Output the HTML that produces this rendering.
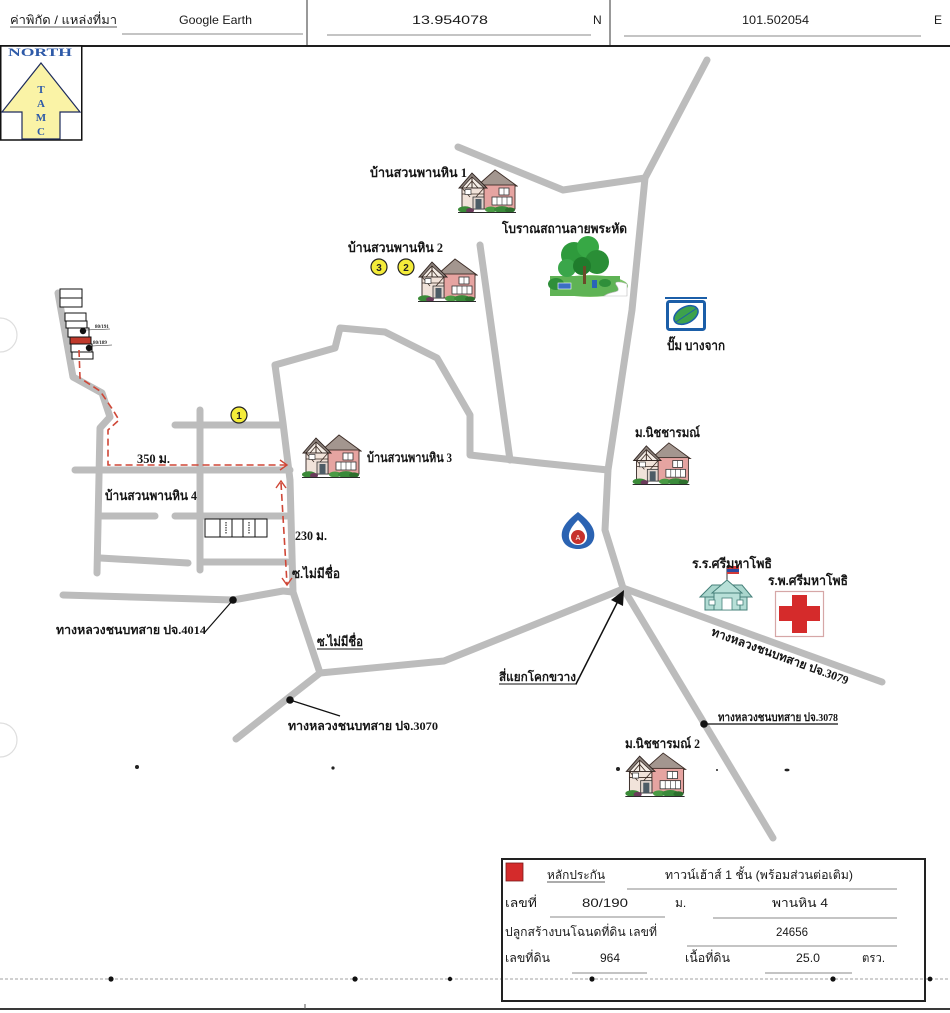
<!DOCTYPE html>
<html>
<head>
<meta charset="utf-8">
<style>
html,body{margin:0;padding:0;background:#fff;}
body{width:950px;height:1013px;overflow:hidden;}
svg{display:block;}
.th{font-family:"Liberation Serif","Noto Serif CJK SC",serif;font-weight:bold;fill:#151515;}
.sn{font-family:"Liberation Sans","Noto Sans CJK SC",sans-serif;fill:#1a1a1a;}
.rd{fill:none;stroke:#bcbcbc;stroke-width:7;stroke-linecap:round;stroke-linejoin:round;}
.dash{fill:none;stroke:#cf4636;stroke-width:1.6;stroke-dasharray:7 4;}
.chev{fill:none;stroke:#cf4636;stroke-width:1.4;}
</style>
</head>
<body>
<svg width="950" height="1013" viewBox="0 0 950 1013" xmlns="http://www.w3.org/2000/svg">
<defs>
<symbol id="house" viewBox="0 0 60 46">
  <polygon points="19,19 37,3 59,19" fill="#a3968f" stroke="#3e2e28" stroke-width="0.9"/>
  <rect x="24" y="18" width="33" height="24" fill="#e6a4a1" stroke="#3e2e28" stroke-width="0.9"/>
  <polygon points="1,21 14,6 29,21" fill="#8a807a" stroke="#2e221e" stroke-width="0.9"/>
  <polygon points="4,21 14,10 26,21" fill="#f4ede6" stroke="#2e221e" stroke-width="0.7"/>
  <line x1="14" y1="10" x2="14" y2="21" stroke="#3a2a22" stroke-width="1"/>
  <line x1="8" y1="21" x2="14" y2="14" stroke="#3a2a22" stroke-width="0.8"/>
  <line x1="20" y1="21" x2="14" y2="14" stroke="#3a2a22" stroke-width="0.8"/>
  <rect x="4" y="21" width="22" height="21" fill="#f1e3da" stroke="#2e221e" stroke-width="0.9"/>
  <line x1="4" y1="27" x2="26" y2="27" stroke="#3a2a22" stroke-width="0.8"/>
  <line x1="4" y1="21" x2="12" y2="30" stroke="#3a2a22" stroke-width="0.8"/>
  <line x1="26" y1="21" x2="18" y2="30" stroke="#3a2a22" stroke-width="0.8"/>
  <rect x="7" y="22.5" width="6" height="5" fill="#fff" stroke="#333" stroke-width="0.7"/>
  <rect x="41" y="21" width="10" height="7" fill="#fff" stroke="#333" stroke-width="0.8"/>
  <line x1="46" y1="21" x2="46" y2="28" stroke="#333" stroke-width="0.6"/>
  <rect x="34" y="30" width="20" height="8" fill="#fff" stroke="#333" stroke-width="0.8"/>
  <line x1="39" y1="30" x2="39" y2="38" stroke="#333" stroke-width="0.6"/>
  <line x1="44" y1="30" x2="44" y2="38" stroke="#333" stroke-width="0.6"/>
  <line x1="49" y1="30" x2="49" y2="38" stroke="#333" stroke-width="0.6"/>
  <rect x="15" y="30" width="11" height="12" fill="#e2d6cf" stroke="#333" stroke-width="0.8"/>
  <rect x="17.5" y="32" width="6" height="10" fill="#4d5c66"/>
  <ellipse cx="7" cy="42.5" rx="7" ry="3.2" fill="#3b8a38"/>
  <ellipse cx="12" cy="43.5" rx="4" ry="2.5" fill="#6a3a5a"/>
  <ellipse cx="33" cy="42.5" rx="6" ry="3" fill="#4a9a44"/>
  <ellipse cx="44" cy="42.5" rx="8" ry="3.4" fill="#3a8a3a"/>
  <ellipse cx="52" cy="43" rx="5" ry="2.6" fill="#2d6f2d"/>
  <line x1="0" y1="45.5" x2="58" y2="45.5" stroke="#2a2a2a" stroke-width="1"/>
</symbol>
</defs>

<!-- punch holes -->
<circle cx="0" cy="335" r="17" fill="none" stroke="#dedede" stroke-width="1.2"/>
<circle cx="0" cy="740" r="17" fill="none" stroke="#dedede" stroke-width="1.2"/>

<!-- ===== HEADER ===== -->
<text class="sn" x="10" y="24" font-size="12" textLength="107" lengthAdjust="spacingAndGlyphs">ค่าพิกัด / แหล่งที่มา</text>
<line x1="10" y1="27" x2="117" y2="27" stroke="#222" stroke-width="0.8"/>
<text class="sn" x="179" y="24" font-size="12" textLength="73" lengthAdjust="spacingAndGlyphs">Google Earth</text>
<line x1="122" y1="34" x2="303" y2="34" stroke="#8a8a8a" stroke-width="1"/>
<line x1="307" y1="0" x2="307" y2="46" stroke="#333" stroke-width="1"/>
<text class="sn" x="412" y="24" font-size="12" textLength="76" lengthAdjust="spacingAndGlyphs">13.954078</text>
<line x1="327" y1="35" x2="591" y2="35" stroke="#8a8a8a" stroke-width="1"/>
<text class="sn" x="593" y="24" font-size="12">N</text>
<line x1="610" y1="0" x2="610" y2="46" stroke="#333" stroke-width="1"/>
<text class="sn" x="742" y="24" font-size="12" textLength="67" lengthAdjust="spacingAndGlyphs">101.502054</text>
<line x1="624" y1="36" x2="921" y2="36" stroke="#8a8a8a" stroke-width="1"/>
<text class="sn" x="934" y="24" font-size="12">E</text>
<line x1="0" y1="46" x2="950" y2="46" stroke="#1e1e1e" stroke-width="2"/>

<!-- ===== NORTH BOX ===== -->
<rect x="0.75" y="46" width="81" height="94" fill="#fff" stroke="#111" stroke-width="1.5"/>
<text x="8" y="56" font-family="Liberation Serif, serif" font-weight="bold" font-size="12" fill="#2e5aa8" textLength="64" lengthAdjust="spacingAndGlyphs">NORTH</text>
<polygon points="41,63 80,112 60,112 60,139 22,139 22,112 2,112" fill="#faf3a6" stroke="#1d2b5c" stroke-width="1.2"/>
<g font-family="Liberation Serif, serif" font-weight="bold" font-size="11" fill="#2e5aa8" text-anchor="middle">
<text x="41" y="93">T</text><text x="41" y="107">A</text><text x="41" y="121">M</text><text x="41" y="135">C</text>
</g>

<!-- ===== ROADS ===== -->
<polyline class="rd" points="707,60 645,178 632,310 608,470 605,530 623,588"/>
<polyline class="rd" points="458,147 563,190 645,178"/>
<polyline class="rd" points="480,245 510,460"/>
<polyline class="rd" points="275,365 335,348 340,328 385,332 437,358 470,415 470,455 540,463 608,470"/>
<polyline class="rd" points="275,365 283,423 290,480 293,592 320,673"/>
<polyline class="rd" points="63,595 233,600 283,591 293,592"/>
<polyline class="rd" points="320,673 444,661 623,589"/>
<polyline class="rd" points="320,673 236,739"/>
<polyline class="rd" points="623,588 882,682"/>
<polyline class="rd" points="623,588 773,838"/>
<!-- left grid -->
<polyline class="rd" points="58,293 73,377 102,393 110,417 100,428 97,573"/>
<polyline class="rd" points="75,470 290,470"/>
<polyline class="rd" points="175,425 280,425"/>
<polyline class="rd" points="200,410 200,570"/>
<polyline class="rd" points="100,516 155,516"/>
<polyline class="rd" points="175,516 287,516"/>
<polyline class="rd" points="100,558 188,563"/>
<polyline class="rd" points="203,562 287,562"/>

<!-- ===== TOP-LEFT LOTS ===== -->
<g fill="#fff" stroke="#111" stroke-width="1">
<rect x="60" y="289" width="22" height="9"/>
<rect x="60" y="298" width="22" height="9"/>
<rect x="65" y="313" width="21" height="8"/>
<rect x="66" y="321" width="21" height="7"/>
<rect x="68" y="328" width="21" height="9"/>
<rect x="70" y="337" width="21" height="7" fill="#c0392b"/>
<rect x="71" y="344" width="21" height="8"/>
<rect x="72" y="352" width="21" height="7"/>
</g>
<circle cx="83" cy="331" r="3.2" fill="#111"/>
<circle cx="89" cy="348" r="3.2" fill="#111"/>
<g font-family="Liberation Serif, serif" font-weight="bold" font-size="5" fill="#222">
<text x="95" y="328">80/191</text><text x="93" y="344">80/189</text>
</g>
<line x1="86" y1="330" x2="110" y2="329" stroke="#222" stroke-width="0.6"/>
<line x1="92" y1="346" x2="112" y2="345" stroke="#222" stroke-width="0.6"/>

<!-- red dashed route -->
<polyline class="dash" points="79,350 80,378 100,391 113,410 119,420 108,430 108,465 286,465"/>
<polyline class="chev" points="280,460 287,465 280,470"/>
<line class="dash" x1="281" y1="483" x2="287" y2="584"/>
<polyline class="chev" points="276,488 281,481 286,488"/>
<polyline class="chev" points="282,578 287,585 292,578"/>

<!-- lots row -->
<g fill="#fff" stroke="#111" stroke-width="1">
<rect x="205" y="519" width="15" height="18"/>
<rect x="220" y="519" width="12" height="18"/>
<rect x="232" y="519" width="11" height="18"/>
<rect x="243" y="519" width="12" height="18"/>
<rect x="255" y="519" width="12" height="18"/>
</g>
<line x1="226" y1="522" x2="226" y2="534" stroke="#333" stroke-width="1.2" stroke-dasharray="1.5 1"/>
<line x1="249" y1="522" x2="249" y2="534" stroke="#333" stroke-width="1.2" stroke-dasharray="1.5 1"/>

<!-- yellow circles -->
<g stroke="#222" stroke-width="1.2" fill="#f4ec3a">
<circle cx="239" cy="415" r="8"/>
<circle cx="379" cy="267" r="8"/>
<circle cx="406" cy="267" r="8"/>
</g>
<g font-family="Liberation Sans, sans-serif" font-weight="bold" font-size="10" fill="#222" text-anchor="middle">
<text x="239" y="419">1</text><text x="379" y="271">3</text><text x="406" y="271">2</text>
</g>

<!-- ===== HOUSES ===== -->
<use href="#house" x="458" y="167" width="60" height="46"/>
<use href="#house" x="418" y="256" width="60" height="46"/>
<use href="#house" x="302" y="432" width="60" height="46"/>
<use href="#house" x="632" y="440" width="60" height="45"/>
<use href="#house" x="625" y="750" width="62" height="47"/>

<!-- ===== PARK ===== -->
<g>
<ellipse cx="590" cy="286" rx="38" ry="11" fill="#7cc468"/>
<rect x="550" y="276" width="70" height="20" fill="#5fb355"/>
<path d="M604,296 C612,290 622,294 617,286 C612,280 622,282 627,284 L627,296 Z" fill="#fff" stroke="#bbb" stroke-width="0.6"/>
<circle cx="574" cy="255" r="13" fill="#2e9a3c"/>
<circle cx="588" cy="247" r="11" fill="#37a845"/>
<circle cx="597" cy="262" r="12" fill="#2a8e36"/>
<circle cx="567" cy="268" r="9" fill="#3aa64a"/>
<circle cx="582" cy="266" r="9" fill="#1f7c2c"/>
<rect x="583" y="266" width="3" height="18" fill="#6b4a2a"/>
<ellipse cx="556" cy="284" rx="8" ry="6" fill="#2f8f3a"/>
<rect x="558" y="283" width="13" height="6" fill="#3b6fc4" stroke="#fff" stroke-width="0.6"/>
<rect x="592" y="280" width="5" height="8" fill="#2a64b8"/>
<ellipse cx="605" cy="283" rx="6" ry="4" fill="#2f8f3a"/>
</g>

<!-- ===== BANGCHAK ===== -->
<line x1="665" y1="298" x2="707" y2="298" stroke="#1b5ea8" stroke-width="2"/>
<rect x="667.5" y="301.5" width="37" height="28" rx="2" fill="#fff" stroke="#1b5ea8" stroke-width="3"/>
<ellipse cx="686" cy="315" rx="13" ry="8" transform="rotate(-28 686 315)" fill="#3da24c" stroke="#1b5ea8" stroke-width="1.5"/>
<line x1="676" y1="322" x2="697" y2="308" stroke="#1b5ea8" stroke-width="1"/>

<!-- ===== PTT ===== -->
<path d="M578,512 C588,520 596,528 594,538 C592,546 585,549 578,549 C571,549 564,546 562,538 C560,528 568,520 578,512 Z" fill="#2b63b2"/>
<path d="M578,520 C584,526 588,532 587,538 C586,543 582,545 578,545 C574,545 570,543 569,538 C568,532 572,526 578,520 Z" fill="#fff"/>
<circle cx="578" cy="537" r="7" fill="#c7312c"/>
<text x="578" y="540" font-family="Liberation Sans, sans-serif" font-size="7" fill="#fff" text-anchor="middle">A</text>

<!-- ===== SCHOOL ===== -->
<line x1="727" y1="566" x2="727" y2="584" stroke="#333" stroke-width="1"/>
<rect x="727" y="566" width="12" height="3" fill="#d23a3a"/>
<rect x="727" y="569" width="12" height="3" fill="#2a4aa0"/>
<rect x="727" y="572" width="12" height="2" fill="#d23a3a"/>
<polygon points="700,597 712,585 742,585 752,597" fill="#a9d6cd" stroke="#46807a" stroke-width="1"/>
<polygon points="712,593 727,580 742,593" fill="#b8e0d8" stroke="#46807a" stroke-width="1"/>
<rect x="705" y="597" width="42" height="13" fill="#b2dcd4" stroke="#46807a" stroke-width="1"/>
<rect x="714" y="593" width="26" height="17" fill="#b8e0d8" stroke="#46807a" stroke-width="1"/>
<rect x="709" y="600" width="6" height="5" fill="#fff" stroke="#46807a" stroke-width="0.8"/>
<rect x="737" y="600" width="6" height="5" fill="#fff" stroke="#46807a" stroke-width="0.8"/>
<rect x="722" y="598" width="10" height="12" fill="#fff" stroke="#46807a" stroke-width="0.8"/>

<!-- ===== HOSPITAL ===== -->
<rect x="775.5" y="591.5" width="48" height="45" fill="#fff" stroke="#d6a7a7" stroke-width="1.2"/>
<rect x="792" y="595" width="15" height="38" fill="#d52b2b"/>
<rect x="779" y="606" width="41" height="15" fill="#d52b2b"/>

<!-- ===== ROAD MARKERS ===== -->
<circle cx="233" cy="600" r="3.8" fill="#111"/>
<line x1="233" y1="600" x2="205" y2="632" stroke="#111" stroke-width="1.2"/>
<circle cx="290" cy="700" r="3.8" fill="#111"/>
<line x1="290" y1="700" x2="340" y2="716" stroke="#111" stroke-width="1.2"/>
<circle cx="704" cy="724" r="3.8" fill="#111"/>
<line x1="704" y1="724" x2="838" y2="724" stroke="#111" stroke-width="1.2"/>
<line x1="576" y1="684" x2="618" y2="601" stroke="#111" stroke-width="1.5"/>
<polygon points="624,590 623,606 611,600" fill="#111"/>

<!-- ===== MAP LABELS ===== -->
<text class="th" x="370" y="177" font-size="13" textLength="97" lengthAdjust="spacingAndGlyphs">บ้านสวนพานหิน 1</text>
<text class="th" x="502" y="233" font-size="13" textLength="125" lengthAdjust="spacingAndGlyphs">โบราณสถานลายพระหัด</text>
<text class="th" x="348" y="252" font-size="13" textLength="95" lengthAdjust="spacingAndGlyphs">บ้านสวนพานหิน 2</text>
<text class="th" x="667" y="350" font-size="13" textLength="58" lengthAdjust="spacingAndGlyphs">ปั๊ม บางจาก</text>
<text class="th" x="635" y="437" font-size="13" textLength="65" lengthAdjust="spacingAndGlyphs">ม.นิชชารมณ์</text>
<text class="th" x="367" y="462" font-size="13" textLength="85" lengthAdjust="spacingAndGlyphs">บ้านสวนพานหิน 3</text>
<text class="th" x="137" y="463" font-size="13" textLength="33" lengthAdjust="spacingAndGlyphs">350 ม.</text>
<text class="th" x="105" y="500" font-size="13" textLength="92" lengthAdjust="spacingAndGlyphs">บ้านสวนพานหิน 4</text>
<text class="th" x="295" y="540" font-size="13" textLength="32" lengthAdjust="spacingAndGlyphs">230 ม.</text>
<text class="th" x="292" y="578" font-size="13" textLength="48" lengthAdjust="spacingAndGlyphs">ซ.ไม่มีชื่อ</text>
<text class="th" x="692" y="568" font-size="13" textLength="80" lengthAdjust="spacingAndGlyphs">ร.ร.ศรีมหาโพธิ</text>
<text class="th" x="768" y="585" font-size="13" textLength="80" lengthAdjust="spacingAndGlyphs">ร.พ.ศรีมหาโพธิ</text>
<text class="th" x="56" y="634" font-size="12" textLength="150" lengthAdjust="spacingAndGlyphs">ทางหลวงชนบทสาย ปจ.4014</text>
<text class="th" x="317" y="646" font-size="13" textLength="46" lengthAdjust="spacingAndGlyphs">ซ.ไม่มีชื่อ</text>
<line x1="317" y1="649" x2="363" y2="649" stroke="#111" stroke-width="1"/>
<text class="th" x="499" y="681" font-size="12" textLength="77" lengthAdjust="spacingAndGlyphs">สี่แยกโคกขวาง</text>
<line x1="499" y1="684" x2="577" y2="684" stroke="#111" stroke-width="1"/>
<text class="th" x="780" y="660" font-size="12" text-anchor="middle" transform="rotate(20 780 656)" textLength="145" lengthAdjust="spacingAndGlyphs">ทางหลวงชนบทสาย ปจ.3079</text>
<text class="th" x="288" y="730" font-size="12" textLength="150" lengthAdjust="spacingAndGlyphs">ทางหลวงชนบทสาย ปจ.3070</text>
<text class="th" x="718" y="721" font-size="11" textLength="120" lengthAdjust="spacingAndGlyphs">ทางหลวงชนบทสาย ปจ.3078</text>
<text class="th" x="625" y="748" font-size="13" textLength="75" lengthAdjust="spacingAndGlyphs">ม.นิชชารมณ์ 2</text>

<!-- specks -->
<g fill="#222">
<circle cx="137" cy="767" r="2"/>
<circle cx="333" cy="768" r="1.6"/>
<circle cx="618" cy="769" r="2"/>
<circle cx="717" cy="770" r="1"/>
<ellipse cx="787" cy="770" rx="2.5" ry="1.4"/>
</g>

<!-- ===== BOTTOM DOTTED LINE ===== -->
<line x1="0" y1="979" x2="950" y2="979" stroke="#a0a0a0" stroke-width="1" stroke-dasharray="3 2"/>
<g fill="#111">
<circle cx="111" cy="979" r="2.6"/>
<circle cx="355" cy="979" r="2.6"/>
<circle cx="450" cy="979" r="2.2"/>
<circle cx="592" cy="979" r="2.6"/>
<circle cx="833" cy="979" r="2.6"/>
<circle cx="930" cy="979" r="2.4"/>
</g>

<!-- ===== TABLE ===== -->
<rect x="502" y="859" width="423" height="142" fill="none" stroke="#222" stroke-width="2"/>
<rect x="506" y="863" width="17" height="18" fill="#d42b2b" stroke="#7a1a1a" stroke-width="0.8"/>
<text class="sn" x="547" y="879" font-size="12" textLength="58" lengthAdjust="spacingAndGlyphs">หลักประกัน</text>
<line x1="547" y1="882" x2="605" y2="882" stroke="#222" stroke-width="0.8"/>
<text class="sn" x="665" y="879" font-size="12" textLength="188" lengthAdjust="spacingAndGlyphs">ทาวน์เฮ้าส์ 1 ชั้น (พร้อมส่วนต่อเติม)</text>
<line x1="627" y1="889" x2="897" y2="889" stroke="#8a8a8a" stroke-width="1"/>

<text class="sn" x="505" y="907" font-size="12" textLength="32" lengthAdjust="spacingAndGlyphs">เลขที่</text>
<text class="sn" x="582" y="907" font-size="12" textLength="46" lengthAdjust="spacingAndGlyphs">80/190</text>
<line x1="550" y1="917" x2="665" y2="917" stroke="#8a8a8a" stroke-width="1"/>
<text class="sn" x="675" y="907" font-size="12">ม.</text>
<text class="sn" x="772" y="907" font-size="12" textLength="56" lengthAdjust="spacingAndGlyphs">พานหิน 4</text>
<line x1="713" y1="918" x2="897" y2="918" stroke="#8a8a8a" stroke-width="1"/>

<text class="sn" x="505" y="936" font-size="12" textLength="152" lengthAdjust="spacingAndGlyphs">ปลูกสร้างบนโฉนดที่ดิน เลขที่</text>
<text class="sn" x="776" y="936" font-size="12" textLength="32" lengthAdjust="spacingAndGlyphs">24656</text>
<line x1="687" y1="946" x2="897" y2="946" stroke="#8a8a8a" stroke-width="1"/>

<text class="sn" x="505" y="962" font-size="12" textLength="45" lengthAdjust="spacingAndGlyphs">เลขที่ดิน</text>
<text class="sn" x="600" y="962" font-size="12" textLength="20" lengthAdjust="spacingAndGlyphs">964</text>
<line x1="572" y1="973" x2="647" y2="973" stroke="#8a8a8a" stroke-width="1"/>
<text class="sn" x="685" y="962" font-size="12" textLength="45" lengthAdjust="spacingAndGlyphs">เนื้อที่ดิน</text>
<text class="sn" x="796" y="962" font-size="12" textLength="24" lengthAdjust="spacingAndGlyphs">25.0</text>
<line x1="765" y1="973" x2="852" y2="973" stroke="#8a8a8a" stroke-width="1"/>
<text class="sn" x="862" y="962" font-size="12" textLength="23" lengthAdjust="spacingAndGlyphs">ตรว.</text>

<!-- page bottom line -->
<line x1="0" y1="1009" x2="950" y2="1009" stroke="#3a3a3a" stroke-width="2"/>
<line x1="305" y1="1004" x2="305" y2="1009" stroke="#555" stroke-width="1"/>
</svg>
</body>
</html>
